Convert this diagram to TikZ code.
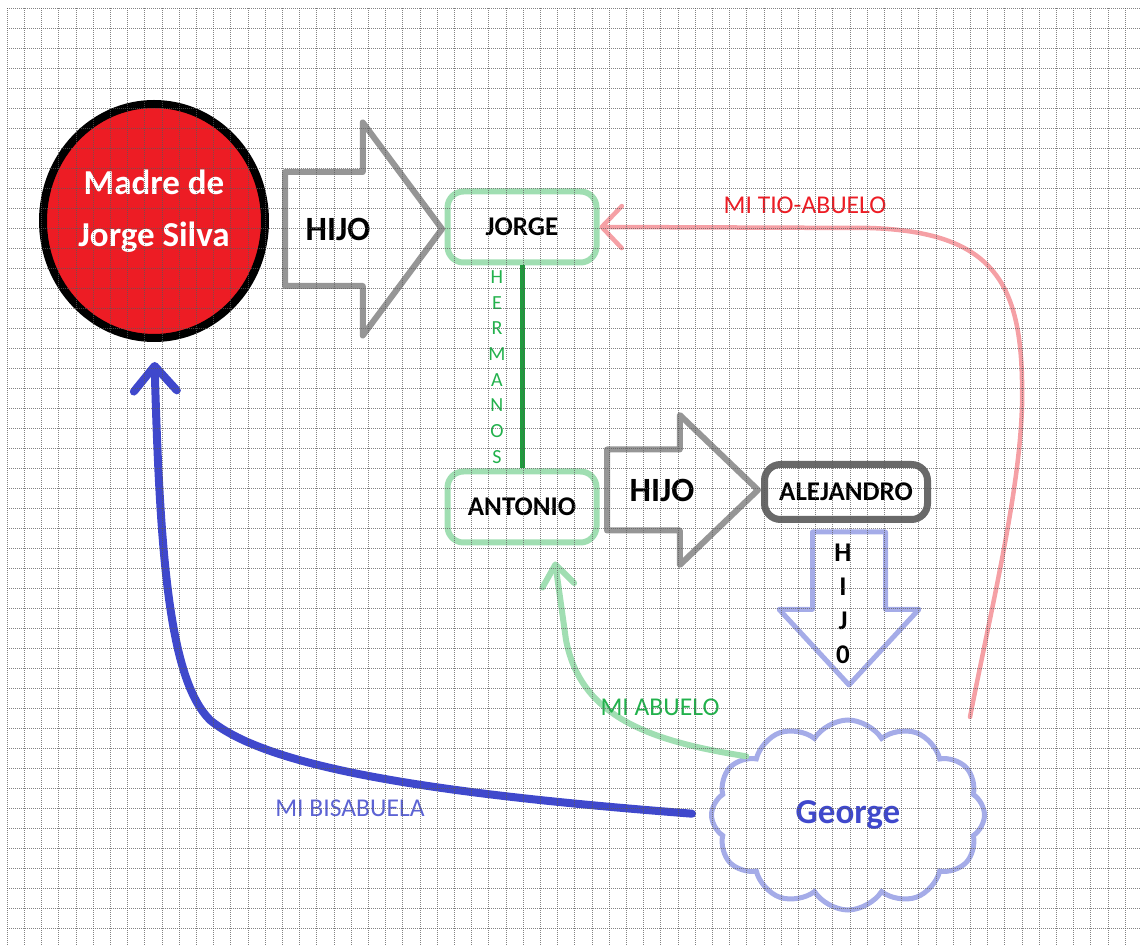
\documentclass[tikz,border=0pt]{standalone}
\usepackage{fontspec}
\setmainfont{Carlito}
\usepackage{xcolor}
\usepackage{tikz}
\usetikzlibrary{shapes.arrows,shapes.symbols,shapes.geometric,arrows.meta}
\definecolor{Paint-Red}{RGB}{237, 28, 36}
\definecolor{Paint-Green}{RGB}{ 34,177, 76}
\definecolor{Paint-Indigo}{RGB}{ 63, 72,204}
\definecolor{Soft-Red}{RGB}{245,160,165}
\definecolor{Soft-Green}{RGB}{160,222,178}
\definecolor{Soft-Blue}{RGB}{165,172,232}
\definecolor{Sketch-Gray}{RGB}{150,150,150}
\definecolor{Dark-Gray}{RGB}{105,105,105}
\definecolor{Line-Green}{RGB}{ 30,155, 60}
\tikzstyle{person}=[rectangle,rounded corners=8pt,line width=3pt,inner sep=0pt,
                    font=\bfseries\fontsize{13.5}{16}\selectfont]
\tikzstyle{green person}=[person,draw=Soft-Green,minimum width=74.5pt,minimum height=35.5pt]
\tikzstyle{gray person}=[person,draw=Dark-Gray,line width=3.5pt,minimum width=81.5pt,minimum height=27.5pt]
\tikzstyle{madre}=[ellipse,draw=black,fill=Paint-Red,line width=4pt,inner sep=0pt,
                   minimum width=111pt,minimum height=117pt]
\tikzstyle{madre text}=[text=white,align=center,font=\bfseries\fontsize{17.5}{26}\selectfont]
\tikzstyle{george}=[cloud,cloud puffs=12,cloud puff arc=115,draw=Soft-Blue,line width=2.5pt,
                    minimum width=136.5pt,minimum height=95pt,text=Paint-Indigo,
                    font=\bfseries\fontsize{17.5}{20}\selectfont]
\tikzstyle{hollow}=[single arrow,single arrow head indent=0pt,inner xsep=0pt,outer sep=0pt,
                    anchor=tail,line join=round]
\tikzstyle{gray hollow}=[hollow,draw=Sketch-Gray,line width=3pt]
\tikzstyle{blue hollow}=[hollow,draw=Soft-Blue,line width=2.5pt,rotate=-90]
\tikzstyle{big word}=[font=\bfseries\fontsize{17}{20}\selectfont]
\tikzstyle{stacked}=[align=center,inner sep=1pt]
\tikzstyle{relation}=[font=\fontsize{12.8}{15}\selectfont]
\tikzstyle{grid dots}=[black!65,line width=0.5pt,dash pattern=on 0.5pt off 0.5pt,opacity=0.75]

\begin{document}
\begin{tikzpicture}[x=0.5pt,y=-0.5pt]
    \useasboundingbox (0,0) rectangle (1141,945);

    % the people
    \node[madre,label={[madre text,yshift=5pt]center:Madre de\\Jorge Silva}] (madre) at (154,221) {};
    \node[green person] (jorge)     at (522,227) {JORGE};
    \node[green person] (antonio)   at (522,507) {ANTONIO};
    \node[gray person]  (alejandro) at (846,492) {ALEJANDRO};
    \node[george]       (george)    at (848,815) {George};

    % block arrows
    \node[gray hollow,inner ysep=27pt,minimum height=78.5pt,
          single arrow head extend=24.75pt,single arrow tip angle=106.7] (hijoA) at (285,229) {};
    \node[big word] (hijoA text) at (338,229) {HIJO};

    \node[gray hollow,inner ysep=18.75pt,minimum height=75.5pt,
          single arrow head extend=17.25pt,single arrow tip angle=87.6] (hijoB) at (607,490) {};
    \node[big word] (hijoB text) at (662,490) {HIJO};

    \node[blue hollow,inner ysep=17pt,minimum height=76.5pt,
          single arrow head extend=16.75pt,single arrow tip angle=85.5] (hijoC) at (849,532) {};
    \node[stacked,font=\bfseries\fontsize{13.5}{17}\selectfont] (hijoC text) at (843,604) {H\\I\\J\\0};

    % brothers
    \draw[Line-Green,line width=2.5pt] (jorge) -- node[stacked,left=6pt,text=Paint-Green,
          font=\fontsize{10}{12.85}\selectfont] (hermanos) {H\\E\\R\\M\\A\\N\\O\\S} (antonio);

    % relations seen from George
    \coordinate (tio start) at (970,717);
    \draw[Soft-Red,line width=2.25pt,line cap=round,-{Straight Barb[length=10pt,width=21pt,round]}]
      (tio start) .. controls (995,590) and (1025,470) .. (1022,380)
                  .. controls (1020,280) and (990,232) .. (870,228) -- (jorge.east);
    \node[relation,text=Paint-Red] (tio) at (805,205) {MI TIO-ABUELO};

    \draw[Soft-Green,line width=3pt,line cap=round,-{Straight Barb[length=10.5pt,width=16pt,round]}]
      (george.150) .. controls (640,740) and (580,712) .. (566,640)
                   -- ([xshift=16.5pt,yshift=-8pt]antonio.south);
    \node[relation,text=Paint-Green] (abuelo) at (660,707) {MI ABUELO};

    \draw[Paint-Indigo,line width=4pt,line cap=round,shorten <=8.5pt,shorten >=10pt,
          -{Straight Barb[length=12.5pt,width=21.5pt,round]}]
      (george.west) .. controls (450,795) and (270,770) .. (210,720)
                    .. controls (170,680) and (160,560) .. (madre.south);
    \node[relation,text=Paint-Indigo!85] (bisabuela) at (350,808) {MI BISABUELA};

    % squared paper
    \foreach \i in {0,...,65}
      \draw[grid dots] ({7.3+17.2*\i},8.3) -- ({7.3+17.2*\i},945);
    \foreach \j in {0,...,46}
      \draw[grid dots] (7.3,{8.3+20*\j}) -- (1141,{8.3+20*\j});

\end{tikzpicture}
\end{document}
